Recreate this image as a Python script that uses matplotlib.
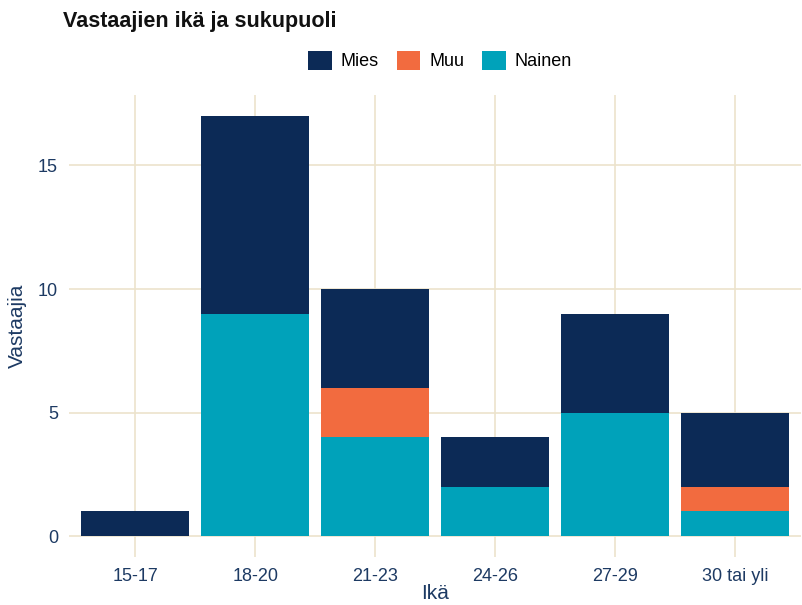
import numpy as np
import matplotlib.pyplot as plt

categories = ['15-17', '18-20', '21-23', '24-26', '27-29', '30 tai yli']
nainen = [0, 9, 4, 2, 5, 1]
muu = [0, 0, 2, 0, 0, 1]
mies = [1, 8, 4, 2, 4, 3]

c_mies = '#0c2a56'
c_muu = '#f26b3f'
c_nainen = '#00a2ba'
txt = '#1d3a63'
grid = '#ece3cc'

plt.rcParams['font.family'] = ['Liberation Sans', 'DejaVu Sans']

fig = plt.figure(figsize=(8.03, 6.05), dpi=100)
ax = fig.add_axes([0.086, 0.079, 0.912, 0.764])

x = np.arange(len(categories))
nainen = np.array(nainen)
muu = np.array(muu)
mies = np.array(mies)
ax.bar(x, nainen, width=0.9, color=c_nainen, label='Nainen', zorder=3)
ax.bar(x, muu, width=0.9, bottom=nainen, color=c_muu, label='Muu', zorder=3)
ax.bar(x, mies, width=0.9, bottom=nainen + muu, color=c_mies, label='Mies', zorder=3)

ax.set_xlim(-0.55, 5.55)
ax.set_ylim(-0.85, 17.85)
ax.set_xticks(x)
ax.set_xticklabels(categories)
ax.set_yticks([0, 5, 10, 15])
ax.tick_params(length=0, labelsize=13, colors=txt, pad=8)
ax.grid(True, color=grid, linewidth=1.2, zorder=0)
for s in ax.spines.values():
    s.set_visible(False)
ax.set_xlabel('Ikä', fontsize=15, color=txt, labelpad=-1)
ax.set_ylabel('Vastaajia', fontsize=15, color=txt, labelpad=8)

h, l = ax.get_legend_handles_labels()
order = [2, 1, 0]
fig.legend([h[i] for i in order], [l[i] for i in order], loc='center',
           bbox_to_anchor=(0.548, 0.9), ncol=3, frameon=False, fontsize=13,
           handlelength=1.3, handleheight=1.3, columnspacing=1.0, handletextpad=0.5)

fig.text(0.078, 0.965, 'Vastaajien ikä ja sukupuoli', fontsize=15.5, fontweight='bold',
         va='center', ha='left', color='#111111')

fig.savefig('out.png', dpi=100, facecolor='white')
